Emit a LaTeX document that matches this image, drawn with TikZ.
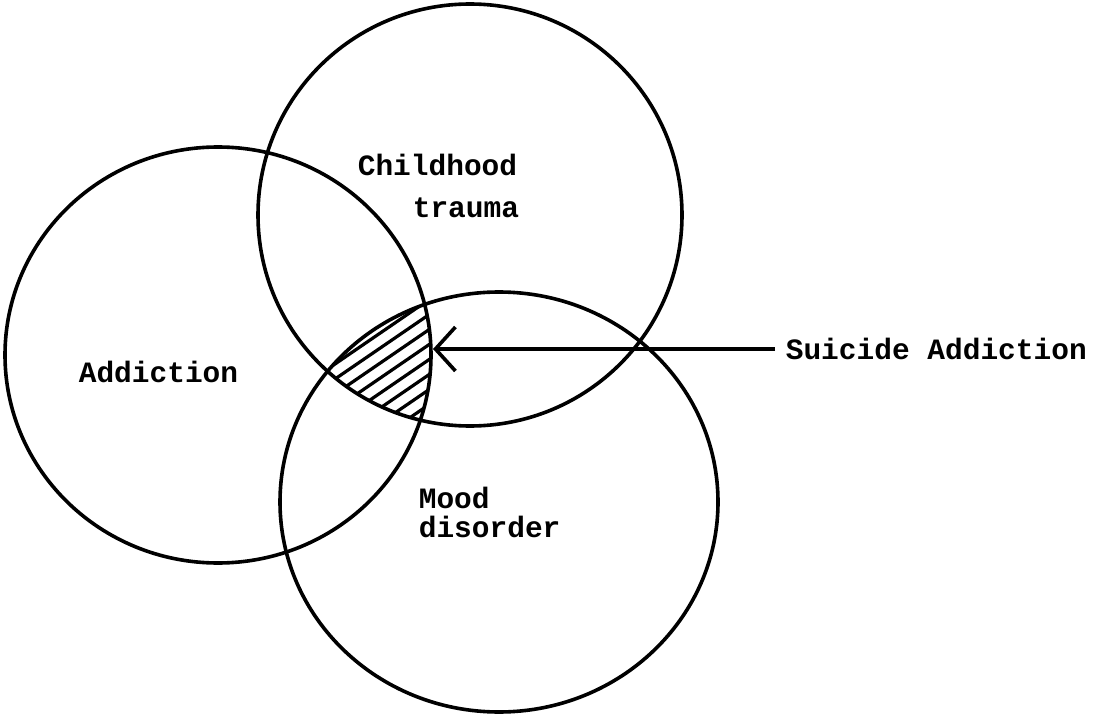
\documentclass[tikz,border=0pt]{standalone}
\usepackage{fontspec}
\setmonofont{Liberation Mono}
\usetikzlibrary{arrows.meta}
\begin{document}
\begin{tikzpicture}[x=1pt,y=-1pt,line width=3.6pt,
  setring/.style={draw=black},
  setlabel/.style={font=\fontsize{29.5}{32}\selectfont\ttfamily\bfseries, inner sep=0pt, anchor=west},
  hatchline/.style={line width=3.2pt},
  pointer/.style={-{Straight Barb[length=20pt,width=44pt,line width=3.6pt]}}]
  \useasboundingbox (0,0) rectangle (1093,714);

  % hatching of the common region of the three sets
  \begin{scope}
    \clip (218,355) ellipse [x radius=213, y radius=208];
    \clip (470,215) ellipse [x radius=212, y radius=211];
    \clip (499,502) ellipse [x radius=219, y radius=210];
    \foreach \k in {0,...,20}
      \draw[hatchline] (300,298+15*\k) -- ++(200,-137);
  \end{scope}

  % the three sets
  \draw[setring] (218,355) ellipse [x radius=213, y radius=208];
  \draw[setring] (470,215) ellipse [x radius=212, y radius=211];
  \draw[setring] (499,502) ellipse [x radius=219, y radius=210];

  % labels
  \node[setlabel] (addiction) at (77,372) {Addiction};
  \node[setlabel] (childhood) at (356,165) {Childhood};
  \node[setlabel] (trauma) at (411,208) {trauma};
  \node[setlabel] (mood) at (417,498) {Mood};
  \node[setlabel] (disorder) at (417,527) {disorder};
  \node[setlabel] (suicide) at (784,349) {Suicide Addiction};

  % pointer to the shaded region
  \coordinate (core) at (433,349);
  \draw[pointer] ([xshift=-9pt]suicide.west) -- (core);
\end{tikzpicture}
\end{document}
